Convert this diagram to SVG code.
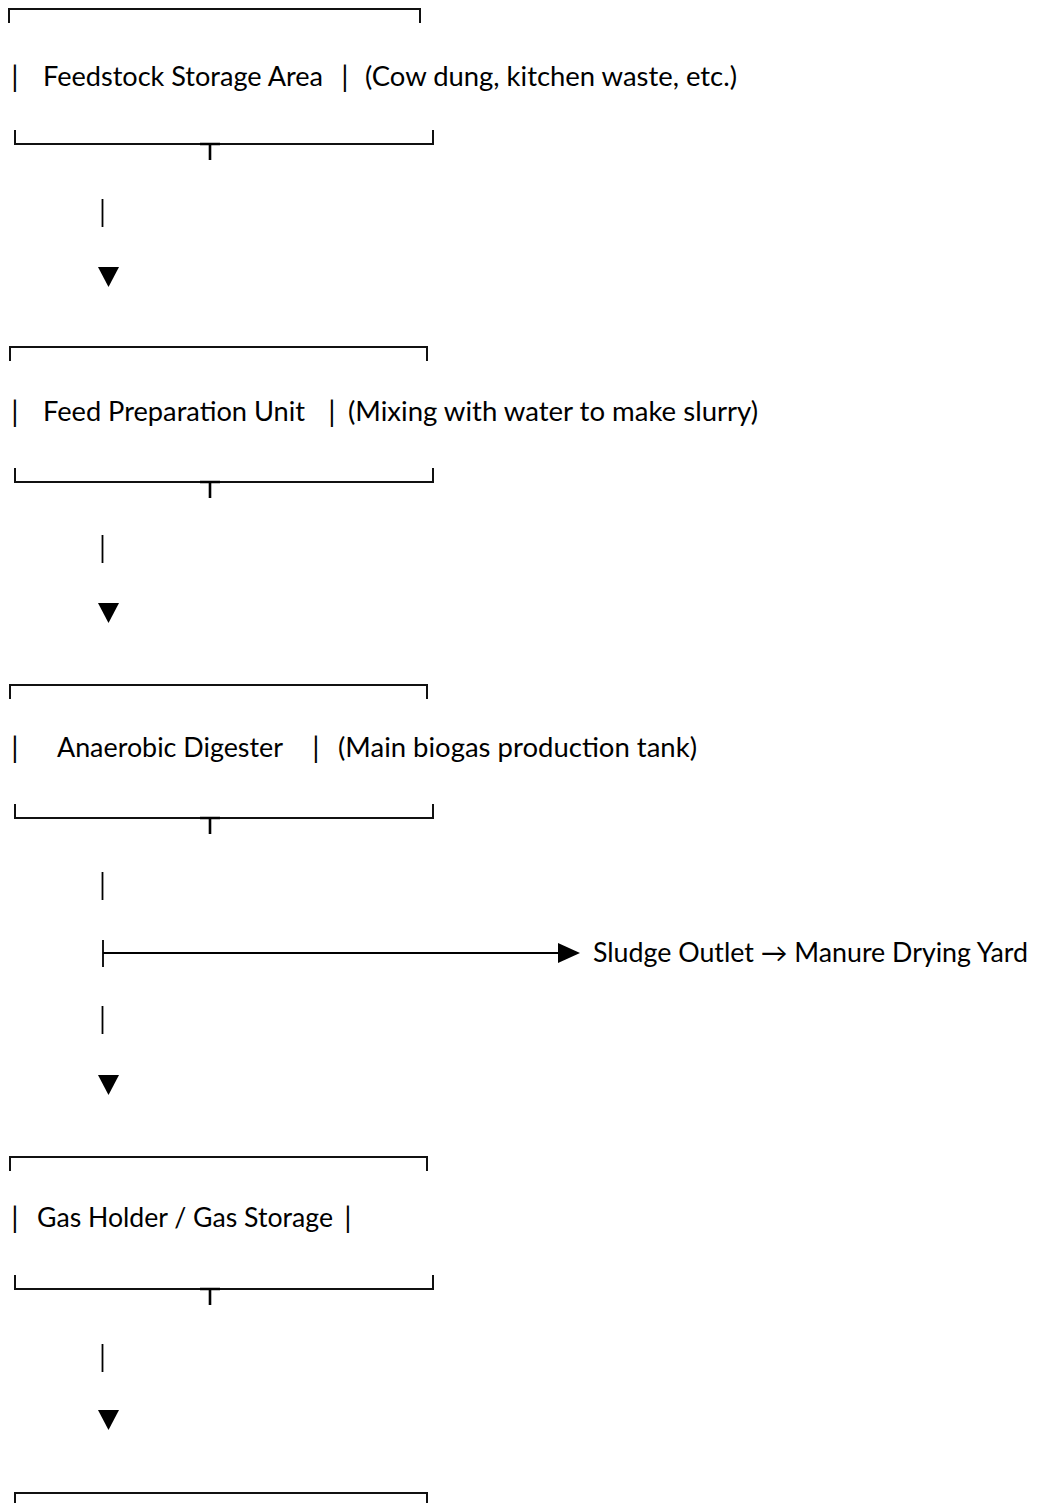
<svg xmlns="http://www.w3.org/2000/svg" width="1037" height="1503" viewBox="0 0 1037 1503">
<style>
text{font-family:Lato,"Open Sans","Liberation Sans",sans-serif;font-size:26px;fill:#000}
.sep{text-anchor:middle;font-size:29px}
.b{stroke:#111;stroke-width:2;fill:none}
.t{stroke:#000;stroke-width:2.6;fill:none}
.c{stroke:#000;stroke-width:1.8;fill:none}
.a{fill:#000}
</style>
<rect width="1037" height="1503" fill="#fff"/>
<g id="node-feedstock">
<path class="b" d="M9 23V9H420V23"/>
<text class="sep" x="15" y="87">|</text>
<text x="43" y="86" textLength="280" lengthAdjust="spacingAndGlyphs">Feedstock Storage Area</text>
<text class="sep" x="345" y="87">|</text>
<text x="365" y="86" textLength="372" lengthAdjust="spacingAndGlyphs">(Cow dung, kitchen waste, etc.)</text>
<path class="b" d="M15 130V144H433V130"/>
<path class="t" d="M200 144H220M210 144V160"/>
</g>
<g id="node-feedprep">
<path class="b" d="M10 361V347H427V361"/>
<text class="sep" x="15" y="422">|</text>
<text x="43" y="421" textLength="262" lengthAdjust="spacingAndGlyphs">Feed Preparation Unit</text>
<text class="sep" x="332" y="422">|</text>
<text x="348" y="421" textLength="410" lengthAdjust="spacingAndGlyphs">(Mixing with water to make slurry)</text>
<path class="b" d="M15 468V482H433V468"/>
<path class="t" d="M200 482H220M210 482V498"/>
</g>
<g id="node-digester">
<path class="b" d="M10 699V685H427V699"/>
<text class="sep" x="15" y="758">|</text>
<text x="57" y="757" textLength="226" lengthAdjust="spacingAndGlyphs">Anaerobic Digester</text>
<text class="sep" x="316" y="758">|</text>
<text x="338" y="757" textLength="359" lengthAdjust="spacingAndGlyphs">(Main biogas production tank)</text>
<path class="b" d="M15 804V818H433V804"/>
<path class="t" d="M200 818H220M210 818V834"/>
</g>
<g id="node-sludge">
<text x="593" y="962" textLength="435" lengthAdjust="spacingAndGlyphs">Sludge Outlet → Manure Drying Yard</text>
</g>
<g id="node-gasholder">
<path class="b" d="M10 1171V1157H427V1171"/>
<text class="sep" x="15" y="1228">|</text>
<text x="37" y="1227" textLength="296" lengthAdjust="spacingAndGlyphs">Gas Holder / Gas Storage</text>
<text class="sep" x="348" y="1228">|</text>
<path class="b" d="M15 1275V1289H433V1275"/>
<path class="t" d="M200 1289H220M210 1289V1305"/>
</g>
<g id="node-next">
<path class="b" d="M15 1507V1493H427V1507"/>
</g>
<g id="connectors">
<path class="c" d="M102.5 199V227"/>
<path class="a" d="M98 267H119L108.5 287Z"/>
<path class="c" d="M102.5 535V563"/>
<path class="a" d="M98 603H119L108.5 623Z"/>
<path class="c" d="M102.5 872V900"/>
<path class="c" d="M103 940V967M103 953H558"/>
<path class="a" d="M558 943V963L580 953Z"/>
<path class="c" d="M102.5 1006V1034"/>
<path class="a" d="M98 1075H119L108.5 1095Z"/>
<path class="c" d="M102.5 1344V1372"/>
<path class="a" d="M98 1410H119L108.5 1430Z"/>
</g>
</svg>
